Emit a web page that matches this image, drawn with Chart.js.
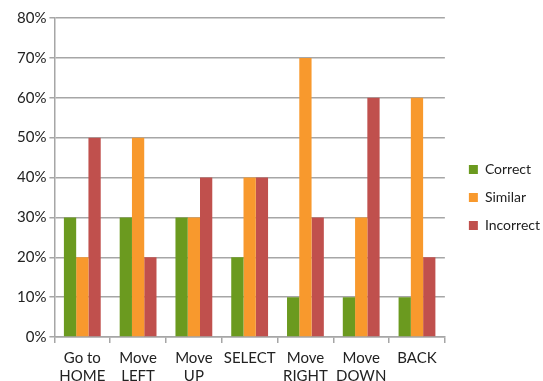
<!DOCTYPE html>
<html>
<head>
<meta charset="utf-8">
<script src="https://cdn.jsdelivr.net/npm/chart.js@4"></script>
<style>
  html, body { margin: 0; padding: 0; background: #fff; }
  #wrap { width: 543px; height: 381px; }
</style>
</head>
<body>
<div id="wrap"><canvas id="chart" width="543" height="381"></canvas></div>
<script>
// categories and series values (percent)
const categories = [["Go to", "HOME"], ["Move", "LEFT"], ["Move", "UP"], ["SELECT"], ["Move", "RIGHT"], ["Move", "DOWN"], ["BACK"]];
const correct = [30, 30, 30, 20, 10, 10, 10];
const similar = [20, 50, 30, 40, 70, 30, 60];
const incorrect = [50, 20, 40, 40, 30, 60, 20];
const yTicks = [0, 10, 20, 30, 40, 50, 60, 70, 80];

const FONT = "Lato, 'Open Sans', sans-serif";

// nudge the legend a bit from where chart.js puts it
const legendShift = {
    id: "legendShift",
    beforeDraw(chart) {
        const lg = chart.legend;
        if (lg && !lg._shifted) {
            lg.left += 10;
            lg.right += 10;
            lg.top -= 7;
            lg.bottom -= 7;
            lg._shifted = true;
        }
    },
};

new Chart(document.getElementById("chart"), {
    type: "bar",
    data: {
        labels: categories,
        datasets: [
            { label: "Correct", data: correct, backgroundColor: "#6b9a1f" },
            { label: "Similar", data: similar, backgroundColor: "#f8992d" },
            { label: "Incorrect", data: incorrect, backgroundColor: "#c0504d" },
        ],
    },
    options: {
        responsive: false,
        animation: false,
        devicePixelRatio: 1,
        categoryPercentage: 0.66,
        barPercentage: 1.0,
        layout: { padding: { top: 18, left: 14, right: 3, bottom: -10 } },
        scales: {
            y: {
                min: 0,
                max: 80,
                afterBuildTicks: (axis) => { axis.ticks = yTicks.map((v) => ({ value: v })); },
                ticks: {
                    callback: (v) => v + "%",
                    color: "#222",
                    font: { family: FONT, size: 15 },
                    padding: 3,
                },
                grid: { color: "#a6a6a6", lineWidth: 1.5, tickLength: 5, tickColor: "#a6a6a6" },
                border: { color: "#a6a6a6", width: 1.5 },
            },
            x: {
                ticks: {
                    color: "#222",
                    font: { family: FONT, size: 15, lineHeight: 1.2 },
                    maxRotation: 0,
                    padding: 6,
                },
                grid: { offset: true, drawOnChartArea: false, tickLength: 6, color: "#a6a6a6", lineWidth: 1.5 },
                border: { color: "#a6a6a6", width: 1.5 },
            },
        },
        plugins: {
            legend: {
                position: "right",
                labels: {
                    boxWidth: 9,
                    boxHeight: 9,
                    padding: 14,
                    color: "#222",
                    font: { family: FONT, size: 14 },
                },
            },
            tooltip: { enabled: false },
        },
    },
    plugins: [legendShift],
});
</script>
</body>
</html>
